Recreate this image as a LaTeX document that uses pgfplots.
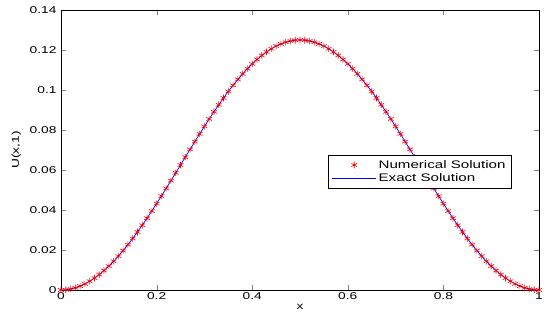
\documentclass[border=0pt]{standalone}
\usepackage{pgfplots}
\pgfplotsset{compat=1.18}
\usepackage{pgfplotstable}
\usepackage{fontspec}
\setmainfont{Liberation Sans}[FakeStretch=1.38]
\pgfplotstableread{
x y
0.00 0.000000
0.01 0.000123
0.02 0.000493
0.03 0.001107
0.04 0.001964
0.05 0.003059
0.06 0.004389
0.07 0.005948
0.08 0.007731
0.09 0.009730
0.10 0.011936
0.11 0.014343
0.12 0.016939
0.13 0.019716
0.14 0.022661
0.15 0.025763
0.16 0.029011
0.17 0.032390
0.18 0.035889
0.19 0.039492
0.20 0.043186
0.21 0.046957
0.22 0.050789
0.23 0.054667
0.24 0.058576
0.25 0.062500
0.26 0.066424
0.27 0.070333
0.28 0.074211
0.29 0.078043
0.30 0.081814
0.31 0.085508
0.32 0.089111
0.33 0.092610
0.34 0.095989
0.35 0.099237
0.36 0.102339
0.37 0.105284
0.38 0.108061
0.39 0.110657
0.40 0.113064
0.41 0.115270
0.42 0.117269
0.43 0.119052
0.44 0.120611
0.45 0.121941
0.46 0.123036
0.47 0.123893
0.48 0.124507
0.49 0.124877
0.50 0.125000
0.51 0.124877
0.52 0.124507
0.53 0.123893
0.54 0.123036
0.55 0.121941
0.56 0.120611
0.57 0.119052
0.58 0.117269
0.59 0.115270
0.60 0.113064
0.61 0.110657
0.62 0.108061
0.63 0.105284
0.64 0.102339
0.65 0.099237
0.66 0.095989
0.67 0.092610
0.68 0.089111
0.69 0.085508
0.70 0.081814
0.71 0.078043
0.72 0.074211
0.73 0.070333
0.74 0.066424
0.75 0.062500
0.76 0.058576
0.77 0.054667
0.78 0.050789
0.79 0.046957
0.80 0.043186
0.81 0.039492
0.82 0.035889
0.83 0.032390
0.84 0.029011
0.85 0.025763
0.86 0.022661
0.87 0.019716
0.88 0.016939
0.89 0.014343
0.90 0.011936
0.91 0.009730
0.92 0.007731
0.93 0.005948
0.94 0.004389
0.95 0.003059
0.96 0.001964
0.97 0.001107
0.98 0.000493
0.99 0.000123
1.00 0.000000
}\datatable
\begin{document}
\begin{tikzpicture}
\begin{axis}[
  scale only axis,
  width=478bp, height=280bp,
  xmin=0, xmax=1, ymin=0, ymax=0.14,
  xtick={0,0.2,0.4,0.6,0.8,1},
  xticklabels={0,0.2,0.4,0.6,0.8,1},
  ytick={0,0.02,0.04,0.06,0.08,0.1,0.12,0.14},
  yticklabels={0,0.02,0.04,0.06,0.08,0.1,0.12,0.14},
  tick align=inside,
  major tick length=5bp,
  tick label style={font=\fontsize{10}{12}\selectfont},
  yticklabel style={xshift=-1bp},
  xticklabel style={yshift=1bp},
  label style={font=\fontsize{10}{12}\selectfont},
  xlabel={x}, ylabel={U(x,1)},
  xlabel style={yshift=2bp},
  ylabel style={yshift=2bp},
  axis line style={black, line width=0.6pt},
  legend style={at={(0.943,0.482)}, anchor=north east, font=\fontsize{11}{13}\selectfont, draw=black, line width=0.5pt, inner xsep=4pt, inner ysep=3pt, row sep=0pt},
  legend cell align=left,
  clip=false,
]
\addplot[only marks, red, mark=asterisk, mark size=3.3pt, line width=0.6pt,
  legend image code/.code={\draw[mark repeat=2, mark phase=2] plot coordinates {(0bp,0bp) (22bp,0bp) (44bp,0bp)};}] table {\datatable};
\addlegendentry{Numerical Solution}
\addplot[blue, line width=0.7pt,
  legend image code/.code={\draw (0bp,0bp) -- (44bp,0bp);}] table {\datatable};
\addlegendentry{Exact Solution}
\end{axis}
\path (current axis.south west) ++(-61bp,-33bp) coordinate (bbsw);
\path (current axis.north east) ++(11bp,10bp) coordinate (bbne);
\useasboundingbox (bbsw) rectangle (bbne);
\end{tikzpicture}
\end{document}
